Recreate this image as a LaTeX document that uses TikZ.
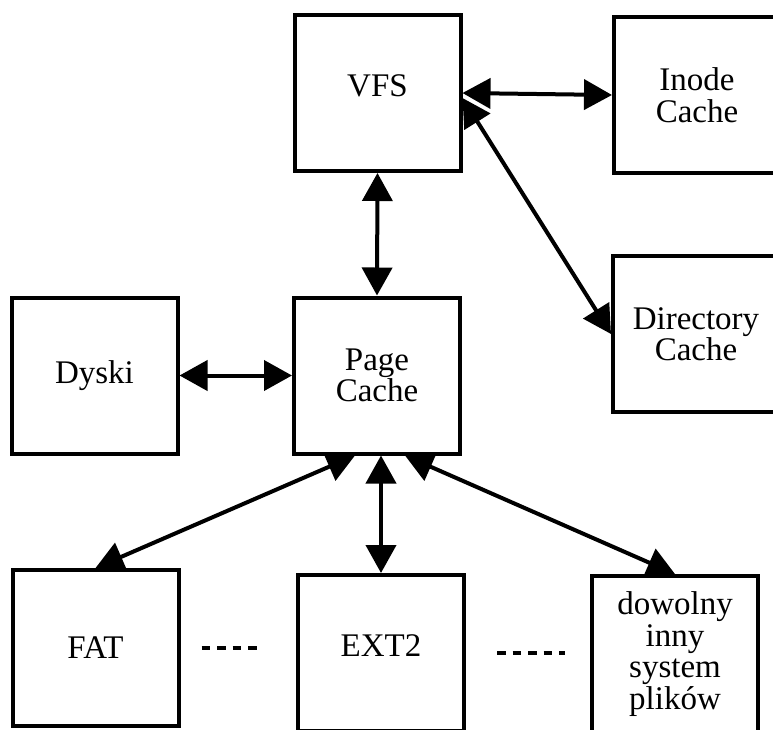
\documentclass[tikz,border=0pt]{standalone}
\usepackage{fontspec}
\setmainfont{Liberation Serif}
\usetikzlibrary{arrows.meta,calc}
\tikzset{
  >={Triangle[length=14pt,width=15pt]},
  box/.style={draw,line width=2pt,minimum width=83pt,minimum height=78pt,
    inner sep=0pt,align=center,font=\fontsize{16.5}{15.75}\selectfont},
  high/.style={text depth=7pt},
  flow/.style={<->,line width=2pt},
  gap/.style={line width=2pt,dash pattern=on 4.25pt off 3.5pt},
}

\begin{document}
\begin{tikzpicture}[x=0.5pt,y=-0.5pt]
  \useasboundingbox (0,0) rectangle (773,730);
  \clip (0,0) rectangle (773,730);
  % top row
  \node[box,high] (vfs) at (377.5,93) {VFS};
  \node[box] (inode) at (697,95) {Inode\\Cache};
  \node[box] (dir) at (696,334) {Directory\\Cache};
  % middle row
  \node[box] (dyski) at (94.5,375.5) {Dyski};
  \node[box] (page) at (377,375.5) {Page\\Cache};
  % file systems
  \node[box] (fat) at (95.5,648) {FAT};
  \node[box,high] (ext2) at (381,653) {EXT2};
  \node[box] (other) at (675,654) {dowolny\\inny\\system\\plików};
  \draw[flow] (vfs.south) -- (page.north);
  \draw[flow] (vfs.east) -- (inode.west);
  \draw[flow] ($(vfs.east)+(0,5)$) -- (dir.west);
  \draw[flow] (dyski.east) -- (page.west);
  \draw[flow] ($(page.south)+(-22,0)$) -- (fat.north);
  \draw[flow] (ext2.north |- page.south) -- (ext2.north);
  \draw[flow] ($(page.south)+(28,0)$) -- (other.north);
  \draw[gap,shorten <=10.5pt,shorten >=19pt] (fat.east) -- (fat.east -| ext2.west);
  \draw[gap,shorten <=15.5pt,shorten >=12.5pt] (ext2.east) -- (ext2.east -| other.west);
\end{tikzpicture}
\end{document}
